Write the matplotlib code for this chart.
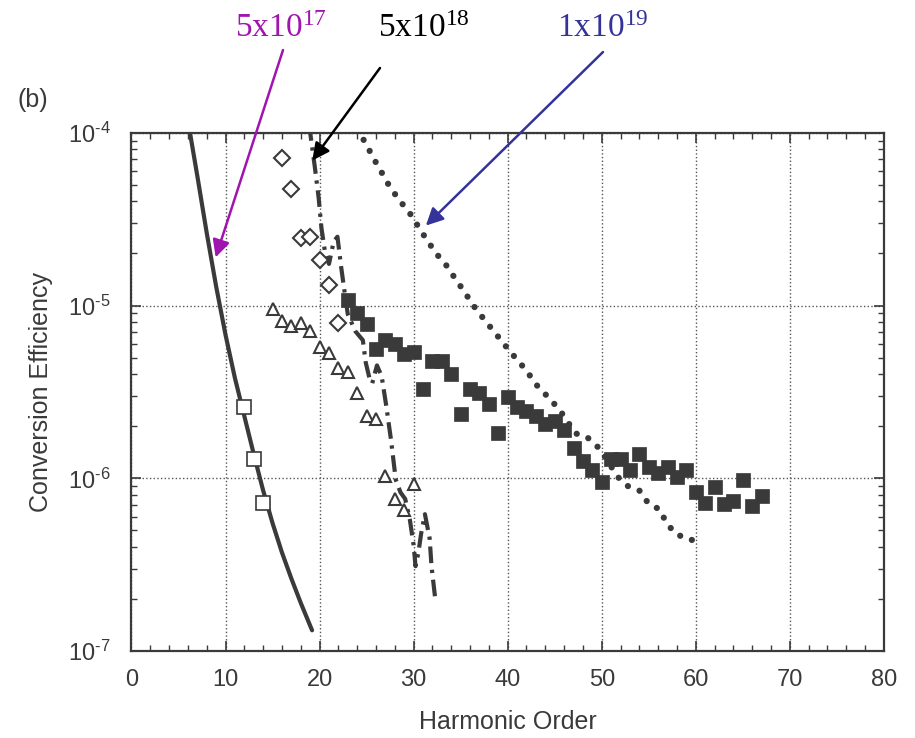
"""
Harmonic conversion efficiency vs harmonic order, panel (b).
"""
import matplotlib
matplotlib.use("Agg")
import matplotlib.pyplot as plt
from matplotlib.ticker import MultipleLocator, LogLocator, NullFormatter, FixedLocator

plt.rcParams['font.family'] = ['Liberation Sans', 'DejaVu Sans']
plt.rcParams['mathtext.fontset'] = 'custom'
plt.rcParams['mathtext.rm'] = 'Liberation Serif'
plt.rcParams['mathtext.sf'] = 'Liberation Sans'

INK = '#3a3a3a'

# 5x10^17 : solid curve + open squares
curve17_x = [6.0, 7.0, 8.0, 9.0, 10.0, 11.0, 12.0, 13.0, 14.0, 15.0, 16.0, 17.0, 18.0, 19.2]
curve17_y = [1.175e-4, 5.62e-5, 2.63e-5, 1.29e-5, 6.76e-6, 3.8e-6, 2.29e-6, 1.38e-6,
             8.5e-7, 5.5e-7, 3.72e-7, 2.63e-7, 1.9e-7, 1.32e-7]
sq_open_x = [12, 13, 14]
sq_open_y = [2.6e-6, 1.3e-6, 7.2e-7]

# 5x10^18 : dash-dot curve + diamonds + triangles
curve18_x = [18.9, 19.0, 19.5, 19.9, 20.2, 20.6, 21.0, 21.5, 21.9, 22.3, 22.6, 23.0, 23.8, 24.6,
             24.9, 25.3, 25.6, 26.1, 26.6, 27.1, 27.6, 28.1, 28.6, 29.1, 29.6, 30.0, 30.2, 30.5,
             30.8, 31.2, 31.7, 31.9, 32.3]
curve18_y = [1.12e-4, 1.0e-4, 6.3e-5, 4.2e-5, 2.8e-5, 2.0e-5, 1.74e-5, 2.35e-5, 2.5e-5, 1.66e-5,
             1.26e-5, 8.9e-6, 7.1e-6, 6.3e-6, 4.7e-6, 3.8e-6, 3.55e-6, 4.5e-6, 3.9e-6, 2.6e-6,
             1.66e-6, 9.8e-7, 8.3e-7, 7.6e-7, 5.75e-7, 4.1e-7, 3.1e-7, 3.7e-7, 4.8e-7, 6.2e-7,
             4.5e-7, 3.1e-7, 2.0e-7]
diam_x = [16, 17, 18, 19, 20, 21, 22]
diam_y = [7.1e-5, 4.7e-5, 2.47e-5, 2.5e-5, 1.83e-5, 1.31e-5, 7.9e-6]
tri_x = list(range(15, 31))
tri_y = [9.6e-6, 8.1e-6, 7.6e-6, 7.9e-6, 7.1e-6, 5.75e-6, 5.3e-6, 4.35e-6, 4.15e-6, 3.1e-6,
         2.3e-6, 2.2e-6, 1.03e-6, 7.6e-7, 6.6e-7, 9.3e-7]

# 1x10^19 : dotted curve + filled squares
curve19_x = [24.0, 24.35, 25.24, 25.94, 26.83, 27.52, 28.6, 29.8, 30.6, 31.4, 32.4, 33.5, 34.5,
             35.4, 36.35, 37.5, 38.7, 39.7, 40.8, 42.0, 43.0, 44.3, 45.5, 47.2, 48.4, 49.8,
             51.7, 52.6, 54.0, 55.0, 56.2, 56.8, 57.8, 59.3, 60.6]
curve19_y = [1.05e-4, 9.8e-5, 8.0e-5, 6.8e-5, 5.6e-5, 4.8e-5, 4.0e-5, 3.3e-5, 2.8e-5, 2.4e-5,
             2.0e-5, 1.7e-5, 1.41e-5, 1.2e-5, 1.0e-5, 8.3e-6, 6.9e-6, 5.9e-6, 5.0e-6, 4.2e-6,
             3.5e-6, 2.95e-6, 2.5e-6, 1.82e-6, 1.74e-6, 1.48e-6, 1.02e-6, 9.1e-7, 8.5e-7,
             7.1e-7, 6.6e-7, 5.6e-7, 4.8e-7, 4.4e-7, 4.4e-7]
sq_fill_x = list(range(23, 68))
sq_fill_y = [1.07e-5, 9.0e-6, 7.8e-6, 5.6e-6, 6.3e-6, 6.0e-6, 5.25e-6, 5.4e-6, 3.3e-6, 4.8e-6,
             4.8e-6, 4.0e-6, 2.35e-6, 3.3e-6, 3.1e-6, 2.7e-6, 1.82e-6, 2.95e-6, 2.57e-6, 2.45e-6,
             2.3e-6, 2.07e-6, 2.14e-6, 1.9e-6, 1.5e-6, 1.26e-6, 1.12e-6, 9.5e-7, 1.29e-6, 1.29e-6,
             1.12e-6, 1.38e-6, 1.16e-6, 1.07e-6, 1.16e-6, 1.02e-6, 1.12e-6, 8.3e-7, 7.2e-7,
             8.9e-7, 7.1e-7, 7.4e-7, 9.8e-7, 6.9e-7, 7.9e-7]

x_ticks = [0, 10, 20, 30, 40, 50, 60, 70, 80]
y_ticks = [1e-7, 1e-6, 1e-5, 1e-4]
y_tick_labels = ['$\\mathsf{10^{\u20107}}$', '$\\mathsf{10^{\u20106}}$',
                 '$\\mathsf{10^{\u20105}}$', '$\\mathsf{10^{\u20104}}$']

fig = plt.figure(figsize=(9.15, 7.38), dpi=100)
ax = fig.add_axes([0.1437, 0.1177, 0.8223, 0.7025])

ax.plot(curve17_x, curve17_y, color=INK, lw=3.0, solid_capstyle='round', zorder=3)
ax.plot(sq_open_x, sq_open_y, 's', ms=9.5, mfc='white', mec=INK, mew=1.2, zorder=5)

ax.plot(curve18_x, curve18_y, color=INK, lw=3.0, linestyle=(0, (4.0, 1.6, 0.8, 1.6)), zorder=3)
ax.plot(diam_x, diam_y, 'D', ms=8, mfc='white', mec=INK, mew=1.5, zorder=5)
ax.plot(tri_x, tri_y, '^', ms=8.5, mfc='white', mec=INK, mew=1.5, zorder=5)

ax.plot(curve19_x, curve19_y, color=INK, lw=4.5, linestyle=(0, (0.01, 2.0)),
        dash_capstyle='round', zorder=3)
ax.plot(sq_fill_x, sq_fill_y, 's', ms=10.5, mfc=INK, mec=INK, mew=0.5, zorder=4)

ax.set_xlim(0, 80)
ax.set_yscale('log')
ax.set_ylim(1e-7, 1e-4)

ax.xaxis.set_major_locator(FixedLocator(x_ticks))
ax.xaxis.set_minor_locator(MultipleLocator(2))
ax.yaxis.set_major_locator(FixedLocator(y_ticks))
ax.set_yticklabels(y_tick_labels)
ax.yaxis.set_minor_locator(LogLocator(base=10, subs=range(2, 10)))
ax.yaxis.set_minor_formatter(NullFormatter())

ax.tick_params(which='both', direction='in', top=True, right=True, colors=INK,
               labelsize=17, labelcolor=INK)
ax.tick_params(axis='x', which='both', pad=13)
ax.tick_params(axis='y', which='both', pad=15)
ax.tick_params(which='major', length=7, width=1.2)
ax.tick_params(which='minor', length=4, width=1.0)
for sp in ax.spines.values():
    sp.set_color(INK)
    sp.set_linewidth(1.6)

ax.grid(True, which='major', linestyle=':', color='#555555', lw=1.0)

ax.set_xlabel('Harmonic Order', fontsize=18, color=INK)
ax.set_ylabel('Conversion Efficiency', fontsize=18, color=INK)
ax.xaxis.set_label_coords(0.5, -0.114)
ax.yaxis.set_label_coords(-0.104, 0.5)

fig.text(0.0186, 0.8645, '(b)', fontsize=18, color=INK, ha='left', va='center')

# density labels with arrows
labels = [r'$\mathrm{5x10^{17}}$', r'$\mathrm{5x10^{18}}$', r'$\mathrm{1x10^{19}}$']
label_colors = ['#a014b0', 'black', '#33339a']
label_pos = [(0.257, 0.95), (0.413, 0.95), (0.609, 0.95)]
arrow_tail = [(0.3093, 0.9322), (0.4153, 0.9079), (0.659, 0.9295)]
arrow_tip = [(8.95, 1.9e-5), (19.22, 6.9e-5), (31.3, 2.9e-5)]

for txt, col, pos, tail, tip in zip(labels, label_colors, label_pos, arrow_tail, arrow_tip):
    fig.text(pos[0], pos[1], txt, fontsize=24, color=col, ha='left', va='baseline')
    ax.annotate('', xy=tip, xycoords='data', xytext=tail, textcoords='figure fraction',
                annotation_clip=False,
                arrowprops=dict(arrowstyle='-|>', color=col, lw=1.8, mutation_scale=26,
                                shrinkA=0, shrinkB=0))

fig.savefig('out.png', dpi=100, facecolor='white')
